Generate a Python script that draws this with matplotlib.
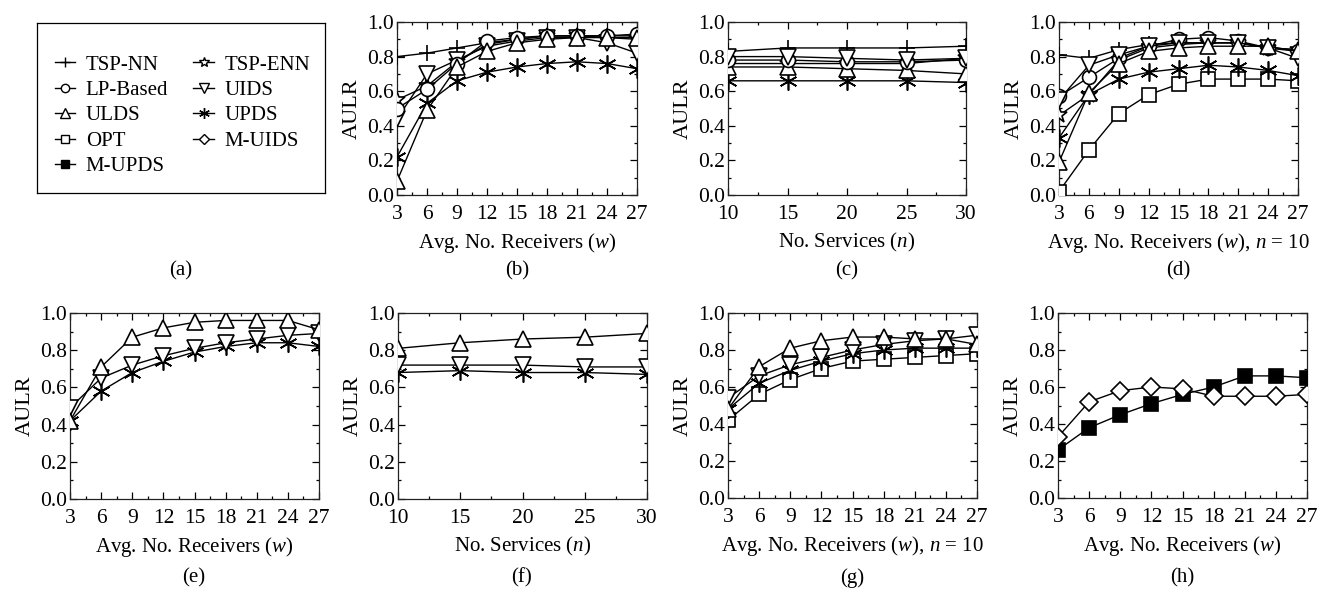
import matplotlib
matplotlib.use("Agg")
import matplotlib.pyplot as plt
from matplotlib.ticker import MultipleLocator, FormatStrFormatter
from matplotlib.lines import Line2D

plt.rcParams['font.family'] = ['Liberation Serif', 'DejaVu Serif']
plt.rcParams['mathtext.fontset'] = 'custom'
plt.rcParams['mathtext.rm'] = 'Liberation Serif'
plt.rcParams['mathtext.it'] = 'Liberation Serif:italic'

# ---------------- data ----------------
w_vals = [3, 6, 9, 12, 15, 18, 21, 24, 27]
n_vals = [10, 15, 20, 25, 30]

# (b) AULR vs w
b_tsp_nn  = [0.80, 0.82, 0.85, 0.88, 0.90, 0.92, 0.92, 0.92, 0.92]
b_lp      = [0.50, 0.61, 0.76, 0.89, 0.91, 0.92, 0.92, 0.92, 0.93]
b_ulds    = [0.08, 0.49, 0.74, 0.83, 0.88, 0.90, 0.91, 0.91, 0.91]
b_tsp_enn = [0.55, 0.63, 0.77, 0.87, 0.90, 0.92, 0.92, 0.91, 0.90]
b_uids    = [0.44, 0.70, 0.78, 0.86, 0.89, 0.91, 0.91, 0.88, 0.82]
b_upds    = [0.22, 0.53, 0.66, 0.71, 0.74, 0.76, 0.77, 0.76, 0.73]

# (c) AULR vs n
c_tsp_nn  = [0.83, 0.85, 0.85, 0.85, 0.86]
c_lp      = [0.78, 0.78, 0.77, 0.77, 0.78]
c_ulds    = [0.74, 0.74, 0.73, 0.72, 0.70]
c_tsp_enn = [0.76, 0.76, 0.76, 0.76, 0.79]
c_uids    = [0.80, 0.80, 0.79, 0.78, 0.79]
c_upds    = [0.66, 0.66, 0.66, 0.66, 0.65]

# (d) AULR vs w, n = 10
d_tsp_nn  = [0.81, 0.79, 0.84, 0.87, 0.88, 0.88, 0.88, 0.85, 0.84]
d_lp      = [0.57, 0.68, 0.79, 0.86, 0.90, 0.91, 0.89, 0.85, 0.83]
d_ulds    = [0.19, 0.59, 0.76, 0.83, 0.85, 0.86, 0.86, 0.86, 0.83]
d_opt     = [0.02, 0.26, 0.47, 0.58, 0.64, 0.67, 0.67, 0.67, 0.66]
d_tsp_enn = [0.46, 0.58, 0.78, 0.85, 0.87, 0.88, 0.88, 0.85, 0.84]
d_uids    = [0.55, 0.75, 0.81, 0.86, 0.88, 0.88, 0.88, 0.85, 0.79]
d_upds    = [0.33, 0.58, 0.67, 0.71, 0.73, 0.75, 0.74, 0.72, 0.69]

# (e) AULR vs w
e_ulds = [0.42, 0.71, 0.87, 0.92, 0.95, 0.96, 0.96, 0.96, 0.91]
e_uids = [0.49, 0.65, 0.72, 0.77, 0.81, 0.84, 0.86, 0.88, 0.89]
e_upds = [0.42, 0.58, 0.68, 0.74, 0.79, 0.82, 0.84, 0.84, 0.82]

# (f) AULR vs n
f_ulds = [0.81, 0.84, 0.86, 0.87, 0.89]
f_uids = [0.72, 0.72, 0.72, 0.71, 0.71]
f_upds = [0.68, 0.69, 0.68, 0.68, 0.67]

# (g) AULR vs w, n = 10
g_ulds = [0.48, 0.71, 0.81, 0.85, 0.87, 0.87, 0.86, 0.86, 0.83]
g_uids = [0.54, 0.66, 0.72, 0.76, 0.80, 0.83, 0.85, 0.86, 0.88]
g_upds = [0.48, 0.62, 0.69, 0.74, 0.78, 0.80, 0.81, 0.81, 0.81]
g_opt  = [0.42, 0.56, 0.64, 0.70, 0.74, 0.75, 0.76, 0.77, 0.78]

# (h) AULR vs w
h_muids = [0.33, 0.52, 0.58, 0.60, 0.59, 0.55, 0.55, 0.55, 0.56]
h_mupds = [0.26, 0.38, 0.45, 0.51, 0.56, 0.60, 0.66, 0.66, 0.65]

# ---------------- styles ----------------
ASTER = (6, 2, 0)
STY = {
    'TSP-NN':   dict(marker='+', mfc='none', ms=11),
    'LP-Based': dict(marker='o', mfc='white', ms=10),
    'ULDS':     dict(marker='^', mfc='white', ms=11),
    'OPT':      dict(marker='s', mfc='white', ms=10),
    'M-UPDS':   dict(marker='s', mfc='black', ms=10),
    'TSP-ENN':  dict(marker='*', mfc='white', ms=12),
    'UIDS':     dict(marker='v', mfc='white', ms=11),
    'UPDS':     dict(marker=ASTER, mfc='none', ms=13),
    'M-UIDS':   dict(marker='D', mfc='white', ms=9),
}

W, H = 1330, 594
fig = plt.figure(figsize=(W / 100, H / 100), dpi=100)


def px_axes(x0, x1, y0, y1):
    return fig.add_axes([x0 / W, 1 - y1 / H, (x1 - x0) / W, (y1 - y0) / H])


def style_axes(ax, xvals, xmaj, xmin, xlabel):
    ax.set_xlim(xvals[0], xvals[-1])
    ax.set_ylim(0, 1.0)
    ax.xaxis.set_major_locator(MultipleLocator(xmaj))
    ax.xaxis.set_minor_locator(MultipleLocator(xmin))
    ax.yaxis.set_major_locator(MultipleLocator(0.2))
    ax.yaxis.set_minor_locator(MultipleLocator(0.1))
    ax.yaxis.set_major_formatter(FormatStrFormatter('%.1f'))
    ax.tick_params(which='both', direction='in', top=True, right=True,
                   labelsize=15.5, width=0.9)
    ax.tick_params(axis='y', pad=2)
    ax.tick_params(axis='x', pad=7)
    ax.tick_params(which='major', length=5)
    ax.tick_params(which='minor', length=2.5)
    for s in ax.spines.values():
        s.set_linewidth(0.9)
        s.set_color('#222222')
    ax.set_ylabel('AULR', fontsize=16, labelpad=4)
    ax.set_xlabel(xlabel, fontsize=15, labelpad=5)


def draw(ax, x, series):
    for name, vals in series:
        st = STY[name]
        ax.plot(x, vals, color='black', lw=1.0, marker=st['marker'],
                mfc=st['mfc'], mec='black', ms=st['ms'], mew=1.2, zorder=3)


XW = 'Avg. No. Receivers ($w$)'
XN = 'No. Services ($n$)'
XWN = 'Avg. No. Receivers ($w$), $n$ = 10'

# legend panel (a)
axa = px_axes(37, 325, 23, 193)
axa.set_xticks([]); axa.set_yticks([])
for s in axa.spines.values():
    s.set_linewidth(0.9)
order = ['TSP-NN', 'LP-Based', 'ULDS', 'OPT', 'M-UPDS',
         'TSP-ENN', 'UIDS', 'UPDS', 'M-UIDS']
handles = []
for name in order:
    st = STY[name]
    handles.append(Line2D([], [], color='black', lw=1.0, marker=st['marker'],
                          mfc=st['mfc'], mec='black', ms=st['ms'] * 0.6, mew=1.0,
                          label=name))
axa.legend(handles=handles, ncol=2, frameon=False, loc='center',
           bbox_to_anchor=(0.505, 0.455),
           fontsize=15, handlelength=1.0, handletextpad=0.5,
           columnspacing=1.2, labelspacing=0.28)

axb = px_axes(397, 637, 22, 195)
draw(axb, w_vals, [('TSP-NN', b_tsp_nn), ('TSP-ENN', b_tsp_enn), ('UPDS', b_upds),
                   ('UIDS', b_uids), ('LP-Based', b_lp), ('ULDS', b_ulds)])
style_axes(axb, w_vals, 3, 1.5, XW)

axc = px_axes(728, 966, 22, 195)
draw(axc, n_vals, [('TSP-NN', c_tsp_nn), ('UPDS', c_upds), ('TSP-ENN', c_tsp_enn),
                   ('ULDS', c_ulds), ('LP-Based', c_lp), ('UIDS', c_uids)])
style_axes(axc, n_vals, 5, 2.5, XN)

axd = px_axes(1059, 1298, 22, 195)
draw(axd, w_vals, [('OPT', d_opt), ('UPDS', d_upds), ('TSP-ENN', d_tsp_enn),
                   ('TSP-NN', d_tsp_nn), ('LP-Based', d_lp), ('UIDS', d_uids),
                   ('ULDS', d_ulds)])
style_axes(axd, w_vals, 3, 1.5, XWN)

axe = px_axes(70, 319, 313, 499)
draw(axe, w_vals, [('UPDS', e_upds), ('UIDS', e_uids), ('ULDS', e_ulds)])
style_axes(axe, w_vals, 3, 1.5, XW)

axf = px_axes(398, 647, 313, 499)
draw(axf, n_vals, [('UPDS', f_upds), ('UIDS', f_uids), ('ULDS', f_ulds)])
style_axes(axf, n_vals, 5, 2.5, XN)

axg = px_axes(728, 977, 313, 498)
draw(axg, w_vals, [('OPT', g_opt), ('UPDS', g_upds), ('UIDS', g_uids), ('ULDS', g_ulds)])
style_axes(axg, w_vals, 3, 1.5, XWN)

axh = px_axes(1058, 1307, 313, 498)
draw(axh, w_vals, [('M-UPDS', h_mupds), ('M-UIDS', h_muids)])
style_axes(axh, w_vals, 3, 1.5, XW)

# panel letters
for lab, xc, yc in [('(a)', 181, 271), ('(b)', 517, 271), ('(c)', 847, 271),
                    ('(d)', 1178, 271), ('(e)', 194, 578), ('(f)', 522, 578),
                    ('(g)', 852, 578), ('(h)', 1182, 578)]:
    fig.text(xc / W, 1 - yc / H, lab, ha='center', va='center', fontsize=15)

fig.savefig('out.png', dpi=100)
